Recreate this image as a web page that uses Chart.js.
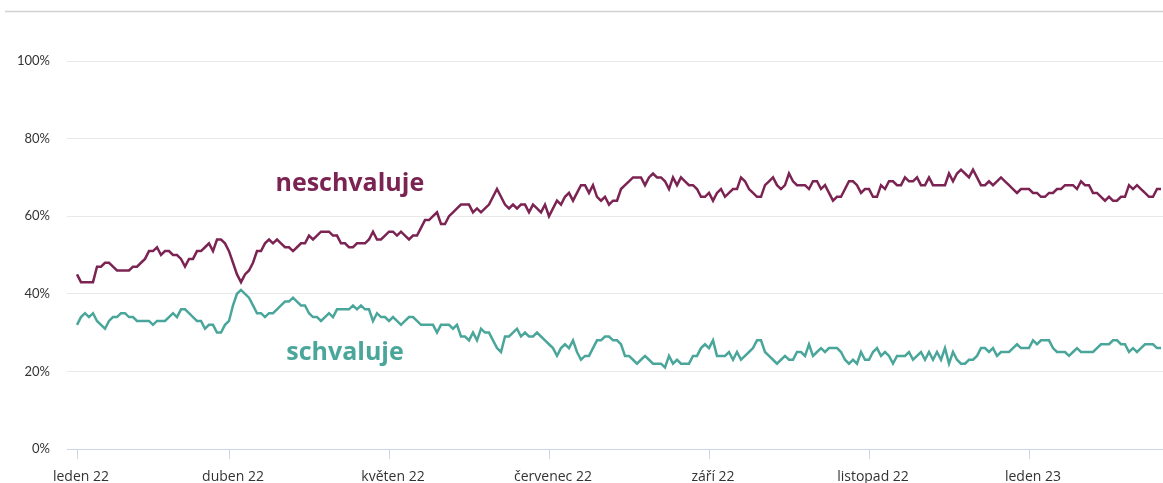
<!DOCTYPE html>
<html>
<head>
<meta charset="utf-8">
<script src="https://cdn.jsdelivr.net/npm/chart.js@4"></script>
<style>
  html, body { margin: 0; padding: 0; background: #fff; }
  #wrap { width: 1163px; height: 483px; }
</style>
</head>
<body>
<div id="wrap"><canvas id="approvalChart" width="1163" height="483"></canvas></div>
<script>
// tick labels and their position in the series (index of the sample)
const tickLabels = ['leden 22', 'duben 22', 'květen 22', 'červenec 22', 'září 22', 'listopad 22', 'leden 23'];
const tickIndex = [0, 38, 78, 118, 158, 198, 238];

// share of respondents, in %
const neschvaluje = [
  45,43,43,43,43,47,47,48,48,47, 46,46,46,46,47,47,48,49,51,51,
  52,50,51,51,50,50,49,47,49,49, 51,51,52,53,51,54,54,53,51,48,
  45,43,45,46,48,51,51,53,54,53, 54,53,52,52,51,52,53,53,55,54,
  55,56,56,56,55,55,53,53,52,52, 53,53,53,54,56,54,54,55,56,56,
  55,56,55,54,55,55,57,59,59,60, 61,58,58,60,61,62,63,63,63,61,
  62,61,62,63,65,67,65,63,62,63, 62,63,63,61,63,62,61,63,60,62,
  64,63,65,66,64,66,68,68,66,68, 65,64,65,63,64,64,67,68,69,70,
  70,70,68,70,71,70,70,69,67,70, 68,70,69,68,68,67,65,65,66,64,
  66,67,65,66,67,67,70,69,67,66, 65,65,68,69,70,68,67,68,71,69,
  68,68,68,67,69,69,67,68,66,64, 65,65,67,69,69,68,66,67,67,65,
  65,68,67,69,69,68,68,70,69,69, 70,68,68,70,68,68,68,68,71,69,
  71,72,71,70,72,70,68,68,69,68, 69,70,69,68,67,66,67,67,67,66,
  66,65,65,66,66,67,67,68,68,68, 67,69,68,68,66,66,65,64,65,64,
  64,65,65,68,67,68,67,66,65,65, 67,67
];
const schvaluje = [
  32,34,35,34,35,33,32,31,33,34, 34,35,35,34,34,33,33,33,33,32,
  33,33,33,34,35,34,36,36,35,34, 33,33,31,32,32,30,30,32,33,37,
  40,41,40,39,37,35,35,34,35,35, 36,37,38,38,39,38,37,37,35,34,
  34,33,34,35,34,36,36,36,36,37, 36,37,36,36,33,35,34,34,33,34,
  33,32,33,34,34,33,32,32,32,32, 30,32,32,32,31,32,29,29,28,30,
  28,31,30,30,28,26,25,29,29,30, 31,29,30,29,29,30,29,28,27,26,
  24,26,27,26,28,25,23,24,24,26, 28,28,29,29,28,28,27,24,24,23,
  22,23,24,23,22,22,22,21,24,22, 23,22,22,22,24,24,26,27,26,28,
  24,24,24,25,23,25,23,24,25,26, 28,28,25,24,23,22,23,24,23,23,
  25,25,24,27,24,25,26,25,26,26, 26,25,23,22,23,22,25,23,23,25,
  26,24,25,24,22,24,24,24,25,23, 24,25,23,25,23,25,23,26,22,25,
  23,22,22,23,23,24,26,26,25,26, 24,25,25,25,26,27,26,26,26,28,
  27,28,28,28,26,25,25,25,24,25, 26,25,25,25,25,26,27,27,27,28,
  28,27,27,25,26,25,26,27,27,27, 26,26
];

const MAROON = '#7b2352';
const TEAL = '#4aa69a';

function toPoints(arr) {
  return arr.map((v, i) => ({ x: i, y: v }));
}

// series names written inside the plot, plus the thin rule on top
const decorPlugin = {
  id: 'decor',
  beforeDraw(chart) {
    const ctx = chart.ctx;
    ctx.save();
    ctx.strokeStyle = '#d2d2d2';
    ctx.lineWidth = 1.5;
    ctx.beginPath();
    ctx.moveTo(5, 11.5);
    ctx.lineTo(chart.width, 11.5);
    ctx.stroke();
    ctx.restore();
  },
  afterDatasetsDraw(chart) {
    const ctx = chart.ctx;
    const xs = chart.scales.x, ys = chart.scales.y;
    ctx.save();
    ctx.font = 'bold 25px "Open Sans", sans-serif';
    ctx.textAlign = 'center';
    ctx.textBaseline = 'middle';
    ctx.fillStyle = MAROON;
    ctx.fillText('neschvaluje', xs.getPixelForValue(68.2), ys.getPixelForValue(68.3));
    ctx.fillStyle = TEAL;
    ctx.fillText('schvaluje', xs.getPixelForValue(67), ys.getPixelForValue(24.7));
    ctx.restore();
  }
};

new Chart(document.getElementById('approvalChart').getContext('2d'), {
  type: 'line',
  data: {
    datasets: [
      { label: 'neschvaluje', data: toPoints(neschvaluje), borderColor: MAROON, borderWidth: 2.5, pointRadius: 0, tension: 0, fill: false },
      { label: 'schvaluje', data: toPoints(schvaluje), borderColor: TEAL, borderWidth: 2.5, pointRadius: 0, tension: 0, fill: false }
    ]
  },
  options: {
    responsive: false,
    devicePixelRatio: 1,
    animation: false,
    layout: { padding: { top: 61, right: 0, left: 0, bottom: 0 } },
    plugins: { legend: { display: false }, tooltip: { enabled: false } },
    scales: {
      x: {
        type: 'linear',
        min: -2.5,
        max: 271.5,
        afterBuildTicks: scale => { scale.ticks = tickIndex.map(v => ({ value: v })); },
        afterFit: scale => { scale.height = 34; },
        grid: { drawOnChartArea: false, drawTicks: true, tickLength: 10, color: '#ccd6eb' },
        border: { color: '#ccd6eb', width: 1 },
        ticks: {
          autoSkip: false,
          maxRotation: 0,
          padding: 10,
          labelOffset: 4,
          color: '#333',
          font: { family: '"Open Sans", sans-serif', size: 14 },
          callback: (v, i) => tickLabels[i]
        }
      },
      y: {
        min: 0,
        max: 100,
        afterFit: scale => { scale.width = 67; },
        grid: {
          drawTicks: false,
          color: ctx => (ctx.tick && ctx.tick.value === 0 ? '#ccd6eb' : '#e9e9e9'),
          lineWidth: 1
        },
        border: { display: false },
        ticks: {
          stepSize: 20,
          padding: 17,
          color: '#333',
          font: { family: 'Lato, sans-serif', size: 13 },
          callback: v => v + '%'
        }
      }
    }
  },
  plugins: [decorPlugin]
});
</script>
</body>
</html>
